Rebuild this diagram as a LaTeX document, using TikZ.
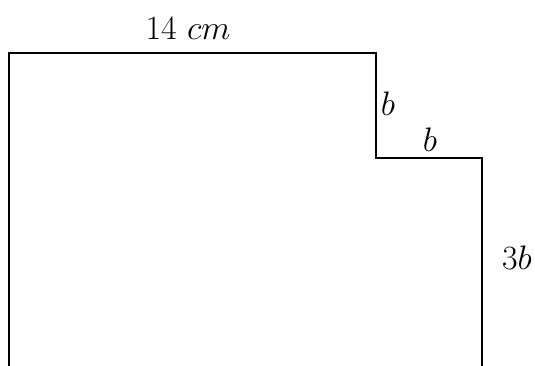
\documentclass[tikz,border=0pt]{standalone}
\usepackage{fix-cm}
\begin{document}
\begin{tikzpicture}[x=1pt,y=-1pt,
  edge/.style={line width=2.6pt,line join=miter},
  lbl/.style={font=\fontsize{34}{40}\selectfont,inner sep=0pt}]
\useasboundingbox (0,0) rectangle (535,365);
\coordinate (bl) at (9,366);
\coordinate (tl) at (9,53);
\coordinate (tr) at (376,53);
\coordinate (st) at (376,158);
\coordinate (sr) at (482,158);
\coordinate (br) at (482,366);
\draw[edge] (bl) -- (tl) -- (tr) -- (st) -- (sr) -- (br);
\node[lbl] (top) at (188,29) {$14\ cm$};
\node[lbl] (b1) at (388,104) {$b$};
\node[lbl] (b2) at (430,140) {$b$};
\node[lbl] (h) at (517,258) {$3b$};
\end{tikzpicture}
\end{document}
